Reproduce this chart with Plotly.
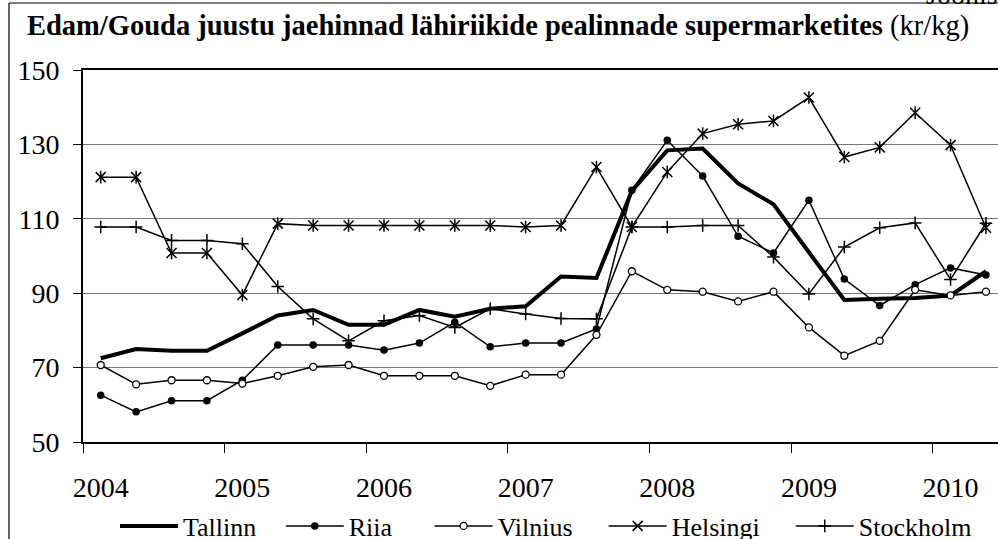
import plotly.graph_objects as go

periods = ["2004-1", "2004-2", "2004-3", "2004-4",
           "2005-1", "2005-2", "2005-3", "2005-4",
           "2006-1", "2006-2", "2006-3", "2006-4",
           "2007-1", "2007-2", "2007-3", "2007-4",
           "2008-1", "2008-2", "2008-3", "2008-4",
           "2009-1", "2009-2", "2009-3", "2009-4",
           "2010-1", "2010-2"]

tallinn = [72.5, 75.0, 74.5, 74.5, 79.2, 84.0, 85.5, 81.5, 81.5, 85.5, 83.7, 85.8, 86.5,
           94.5, 94.1, 117.5, 128.4, 128.9, 119.5, 113.9, 101.0, 88.2, 88.5, 88.7, 89.4, 95.9]
riia = [62.6, 58.1, 61.1, 61.1, 66.6, 76.1, 76.1, 76.1, 74.7, 76.6, 82.2, 75.6, 76.6,
        76.6, 80.4, 117.7, 131.1, 121.5, 105.3, 100.8, 115.0, 93.8, 86.7, 92.3, 96.8, 94.9]
vilnius = [70.7, 65.5, 66.6, 66.6, 65.7, 67.8, 70.2, 70.7, 67.8, 67.8, 67.8, 65.1, 68.1,
           68.1, 78.8, 95.9, 90.9, 90.4, 87.8, 90.4, 80.8, 73.2, 77.2, 90.9, 89.4, 90.4]
helsingi = [121.2, 121.2, 100.8, 100.8, 89.5, 108.7, 108.2, 108.2, 108.2, 108.2, 108.2, 108.2, 107.8,
            108.2, 123.9, 107.8, 122.6, 132.9, 135.4, 136.3, 142.6, 126.6, 129.2, 138.5, 129.8, 107.6]
stockholm = [107.8, 107.8, 104.2, 104.2, 103.3, 91.8, 83.1, 77.2, 82.6, 84.0, 80.8, 85.8, 84.4,
             83.2, 83.1, 107.8, 107.8, 108.2, 108.2, 99.7, 89.8, 102.4, 107.6, 108.9, 93.7, 108.8]

year_ticks = [0, 4, 8, 12, 16, 20, 24]
year_labels = ["2004", "2005", "2006", "2007", "2008", "2009", "2010"]
y_ticks = [50, 70, 90, 110, 130, 150]

x = list(range(len(periods)))
FONT = "Liberation Serif"
W, H = 998, 539
ML, MT, MB, MR = 83, 70, 97, 0
PW = W - ML - MR
PH = H - MT - MB
NB = "\u00a0"


def px(xp):
    return (xp - ML) / PW


def py(yp):
    return (H - MB - yp) / PH


fig = go.Figure()
fig.add_trace(go.Scatter(x=x, y=tallinn, name="Tallinn" + NB * 3, mode="lines",
                         line=dict(color="black", width=4)))
fig.add_trace(go.Scatter(x=x, y=riia, name="Riia" + NB * 5, mode="lines+markers",
                         line=dict(color="black", width=1.5),
                         marker=dict(symbol="circle", size=7.5, color="black")))
fig.add_trace(go.Scatter(x=x, y=vilnius, name="Vilnius" + NB * 4, mode="lines+markers",
                         line=dict(color="black", width=1.5),
                         marker=dict(symbol="circle", size=7, color="white",
                                     line=dict(color="black", width=1.3))))
fig.add_trace(go.Scatter(x=x, y=helsingi, name="Helsingi" + NB * 4, mode="lines+markers",
                         legendgroup="hel",
                         line=dict(color="black", width=1.5),
                         marker=dict(symbol="x-thin-open", size=10, color="black",
                                     line=dict(color="black", width=1.5))))
fig.add_trace(go.Scatter(x=x, y=helsingi, name="Helsingi", mode="markers",
                         legendgroup="hel", showlegend=False,
                         marker=dict(symbol="line-ns-open", size=9, color="black",
                                     line=dict(color="black", width=1.5))))
fig.add_trace(go.Scatter(x=x, y=stockholm, name="Stockholm", mode="lines+markers",
                         line=dict(color="black", width=1.5),
                         marker=dict(symbol="cross-thin-open", size=9, color="black",
                                     line=dict(color="black", width=1.5))))

shapes = [
    dict(type="line", xref="paper", yref="paper", x0=px(9), x1=px(1005), y0=py(3), y1=py(3),
         line=dict(color="black", width=1.2), layer="above"),
    dict(type="line", xref="paper", yref="paper", x0=px(9), x1=px(9), y0=py(3), y1=py(560),
         line=dict(color="black", width=1.2), layer="above"),
]

annotations = [
    dict(text="<b>Edam/Gouda juustu jaehinnad lähiriikide pealinnade supermarketites</b> (kr/kg)",
         xref="paper", yref="paper", x=px(25), y=py(26), xanchor="left", yanchor="middle",
         showarrow=False, font=dict(family=FONT, size=28.5, color="black")),
    dict(text="Joonis", xref="paper", yref="paper", x=px(924), y=py(12),
         xanchor="left", yanchor="bottom", showarrow=False,
         font=dict(family=FONT, size=28, color="black")),
]

fig.update_layout(
    width=W, height=H,
    margin=dict(l=ML, r=MR, t=MT, b=MB, autoexpand=False),
    paper_bgcolor="white", plot_bgcolor="white",
    font=dict(family=FONT, size=28, color="black"),
    shapes=shapes, annotations=annotations,
    legend=dict(orientation="h", x=px(546), xanchor="center", y=py(526), yanchor="middle",
                font=dict(family=FONT, size=26, color="black"), itemwidth=58,
                bgcolor="rgba(0,0,0,0)"),
    showlegend=True,
)
fig.update_xaxes(range=[-0.5, 25.34], tickmode="array", tickvals=year_ticks, ticktext=year_labels,
                 ticks="outside", ticklen=9, tickcolor="rgba(0,0,0,0)", ticklabelstandoff=10,
                 minor=dict(tickmode="array", tickvals=[-0.5, 3.5, 7.5, 11.5, 15.5, 19.5, 23.5],
                            ticks="outside", ticklen=9, tickcolor="black", tickwidth=1, showgrid=False),
                 showgrid=False, zeroline=False, showline=True, linecolor="black", linewidth=2,
                 mirror=True, automargin=False, tickfont=dict(family=FONT, size=28, color="black"))
fig.update_yaxes(range=[50, 150], tickmode="array", tickvals=y_ticks,
                 ticks="outside", ticklen=8, tickcolor="black", tickwidth=1, ticklabelstandoff=8,
                 showgrid=True, gridcolor="#777777", gridwidth=1, zeroline=False,
                 showline=True, linecolor="black", linewidth=2, automargin=False,
                 tickfont=dict(family=FONT, size=28, color="black"))

fig.write_html("out.html", config={"displayModeBar": False},
               post_script="document.body.style.margin='0';document.body.style.overflow='hidden';")
